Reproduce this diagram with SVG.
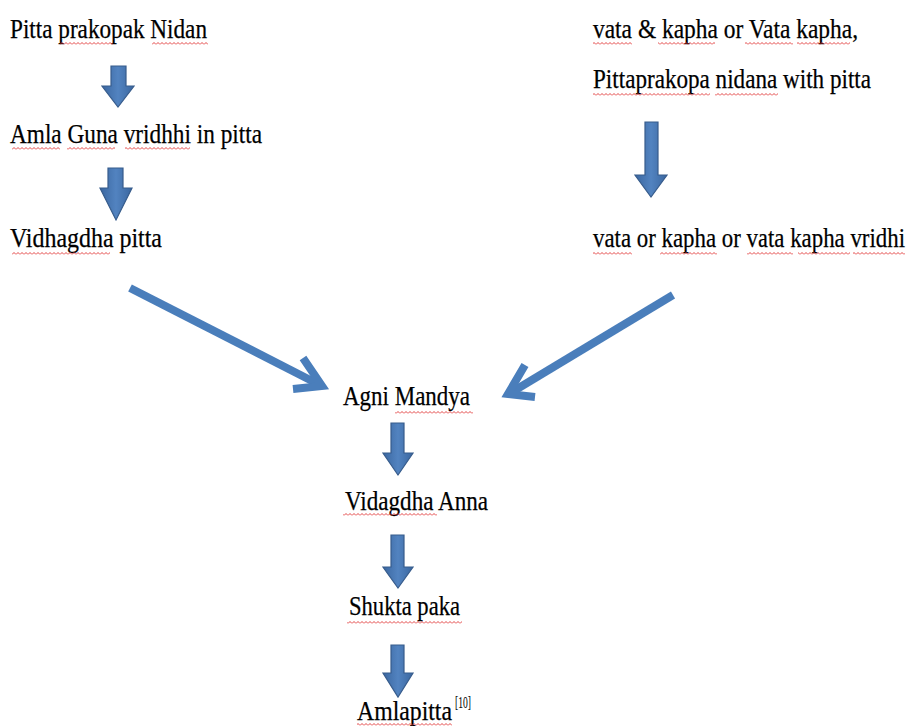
<svg xmlns="http://www.w3.org/2000/svg" width="909" height="726" viewBox="0 0 909 726">
<style>
.t{font-family:"Liberation Serif","Times New Roman",serif;font-size:28px;fill:#000;stroke:#000;stroke-width:0.25}
.sup{font-family:"Liberation Serif","Times New Roman",serif;font-size:16px;fill:#000}
.blk{fill:url(#bg);stroke:#375C8C;stroke-width:1.2;stroke-linejoin:miter}
.diag{fill:none;stroke:#4A7EBB;stroke-width:8;stroke-linecap:butt;stroke-linejoin:miter}
.sq{fill:url(#sq)}
</style>
<defs>
<linearGradient id="bg" x1="0" y1="0" x2="1" y2="0">
<stop offset="0" stop-color="#3B67A0"/>
<stop offset="0.5" stop-color="#5283C0"/>
<stop offset="1" stop-color="#3B67A0"/>
</linearGradient>
<pattern id="sq" patternUnits="userSpaceOnUse" width="4" height="3">
<path d="M0 2.5 L2 0.5 L4 2.5" fill="none" stroke="#E03030" stroke-width="0.9"/>
</pattern>
</defs>
<g id="connectors">
<path class="blk" d="M111 66 H126 V86 H134 L118 107 L102 86 H111 Z"/>
<path class="blk" d="M108 168 H123 V188 H132 L116 220 L100 188 H108 Z"/>
<path class="blk" d="M645 122 H658 V175 H667 L651 197 L635 175 H645 Z"/>
<path class="blk" d="M391 423 H404 V453 H413 L398 475 L383 453 H391 Z"/>
<path class="blk" d="M391 535 H404 V567 H413 L398 588 L383 567 H391 Z"/>
<path class="blk" d="M391 645 H404 V673 H413 L398 697 L383 673 H391 Z"/>
<line class="diag" x1="130" y1="288" x2="318" y2="384"/>
<polyline class="diag" points="303,358 322,386 293,389"/>
<line class="diag" x1="673" y1="295" x2="512" y2="392"/>
<polyline class="diag" points="525,365 508,394 535,397"/>
</g>
<g id="n1"><text class="t" x="10" y="38" textLength="197" lengthAdjust="spacingAndGlyphs">Pitta prakopak Nidan</text>
<rect class="sq" x="60" y="42" width="53" height="3"/><rect class="sq" x="152" y="42" width="56" height="3"/></g>
<g id="n2"><text class="t" x="10" y="143" textLength="252" lengthAdjust="spacingAndGlyphs">Amla Guna vridhhi in pitta</text>
<rect class="sq" x="12" y="147" width="48" height="3"/><rect class="sq" x="67" y="147" width="48" height="3"/><rect class="sq" x="125" y="147" width="65" height="3"/></g>
<g id="n3"><text class="t" x="10" y="247" textLength="152" lengthAdjust="spacingAndGlyphs">Vidhagdha pitta</text>
<rect class="sq" x="12" y="252" width="98" height="3"/></g>
<g id="n4"><text class="t" x="593" y="38" textLength="265" lengthAdjust="spacingAndGlyphs">vata &amp; kapha or Vata kapha,</text>
<rect class="sq" x="593" y="42" width="39" height="3"/><rect class="sq" x="658" y="42" width="57" height="3"/><rect class="sq" x="745" y="42" width="48" height="3"/><rect class="sq" x="797" y="42" width="53" height="3"/></g>
<g id="n5"><text class="t" x="593" y="88" textLength="278" lengthAdjust="spacingAndGlyphs">Pittaprakopa nidana with pitta</text>
<rect class="sq" x="593" y="93" width="117" height="3"/><rect class="sq" x="715" y="93" width="63" height="3"/></g>
<g id="n6"><text class="t" x="593" y="247" textLength="312" lengthAdjust="spacingAndGlyphs">vata or kapha or vata kapha vridhi</text>
<rect class="sq" x="593" y="252" width="39" height="3"/><rect class="sq" x="660" y="252" width="57" height="3"/><rect class="sq" x="747" y="252" width="46" height="3"/><rect class="sq" x="798" y="252" width="52" height="3"/><rect class="sq" x="853" y="252" width="52" height="3"/></g>
<g id="n7"><text class="t" x="343" y="405" textLength="127" lengthAdjust="spacingAndGlyphs">Agni Mandya</text>
<rect class="sq" x="395" y="411" width="78" height="3"/></g>
<g id="n8"><text class="t" x="345" y="510" textLength="143" lengthAdjust="spacingAndGlyphs">Vidagdha Anna</text>
<rect class="sq" x="343" y="513" width="94" height="3"/></g>
<g id="n9"><text class="t" x="349" y="615" textLength="111" lengthAdjust="spacingAndGlyphs">Shukta paka</text>
<rect class="sq" x="347" y="621" width="115" height="3"/></g>
<g id="n10"><text class="t" x="357" y="720" textLength="95" lengthAdjust="spacingAndGlyphs">Amlapitta</text><text class="sup" x="455" y="708" textLength="16" lengthAdjust="spacingAndGlyphs">[10]</text>
<rect class="sq" x="357" y="723" width="95" height="3"/></g>
</svg>
